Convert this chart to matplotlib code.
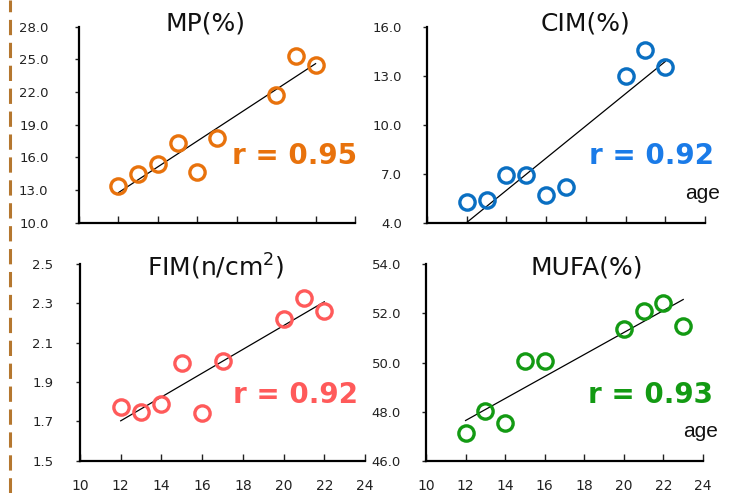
import numpy as np
import matplotlib
matplotlib.use("Agg")
import matplotlib.pyplot as plt
from matplotlib.lines import Line2D

# data
age = [12, 13, 14, 15, 16, 17, 20, 21, 22]
age_mufa = [12, 13, 14, 15, 16, 20, 21, 22, 23]

mp = [13.4, 14.5, 15.4, 17.3, 14.7, 17.8, 21.7, 25.3, 24.5]
cim = [5.28, 5.39, 6.92, 6.92, 5.7, 6.2, 12.98, 14.57, 13.55]
fim = [1.775, 1.746, 1.788, 1.995, 1.741, 2.009, 2.22, 2.329, 2.263]
mufa = [47.14, 48.04, 47.55, 50.07, 50.07, 51.35, 52.11, 52.41, 51.5]

titles = ["MP(%)", "CIM(%)", "FIM(n/cm$^2$)", "MUFA(%)"]
r_labels = ["r = 0.95", "r = 0.92", "r = 0.92", "r = 0.93"]
colors = ["#E8720C", "#0A6FC2", "#FF5A5A", "#139A13"]
r_colors = ["#E8720C", "#1A7BE8", "#FF5A5A", "#139A13"]

W, H = 736, 493
fig = plt.figure(figsize=(W / 100, H / 100), dpi=100)


def add_ax(x0, x1, y0, y1):
    return fig.add_axes([x0 / W, 1 - y1 / H, (x1 - x0) / W, (y1 - y0) / H])


panels = [
    dict(box=(79, 355, 26.7, 222.7), x=age, y=mp, ylim=(10, 28), yt=np.arange(10, 28.1, 3),
         tx=0.457, ty=1.014, rx=0.78, ry=0.34, ypad=19, xlab=False, agel=False),
    dict(box=(427, 705, 26.7, 222.7), x=age, y=cim, ylim=(4, 16), yt=np.arange(4, 16.1, 3),
         tx=0.57, ty=1.014, rx=0.806, ry=0.34, ypad=15, xlab=False, agel=True, agey=0.15),
    dict(box=(80, 365, 264, 460.7), x=age, y=fim, ylim=(1.5, 2.5), yt=np.arange(1.5, 2.51, 0.2),
         tx=0.477, ty=0.985, rx=0.757, ry=0.335, ypad=16, xlab=True, agel=False),
    dict(box=(426, 703, 264.3, 460.7), x=age_mufa, y=mufa, ylim=(46, 54), yt=np.arange(46, 54.1, 2),
         tx=0.58, ty=0.985, rx=0.81, ry=0.335, ypad=15, xlab=True, agel=True, agey=0.15),
]

for i, p in enumerate(panels):
    ax = add_ax(*p["box"])
    xs = np.array(p["x"], dtype=float)
    ys = np.array(p["y"], dtype=float)
    ax.plot(xs, ys, "o", ms=11, mfc="none", mec=colors[i], mew=2.4, zorder=3)
    k, b = np.polyfit(xs, ys, 1)
    xx = np.array([xs.min(), xs.max()])
    ax.plot(xx, k * xx + b, color="black", lw=0.9, zorder=2)

    ax.set_xlim(10, 24)
    ax.set_ylim(*p["ylim"])
    ax.set_xticks(np.arange(10, 24.1, 2))
    ax.set_yticks(p["yt"])
    ax.set_yticklabels(["%.1f" % v for v in p["yt"]])
    if not p["xlab"]:
        ax.set_xticklabels([])
    for s in ["top", "right"]:
        ax.spines[s].set_visible(False)
    for s in ["left", "bottom"]:
        ax.spines[s].set_linewidth(1.6)
    ax.tick_params(axis="x", direction="in", length=5, width=1, labelsize=10, pad=13,
                   colors="#222222")
    ax.tick_params(axis="y", direction="out", length=3, width=1, labelsize=9.5, pad=p["ypad"],
                   colors="#222222")
    ax.patch.set_alpha(0)

    ax.text(p["tx"], p["ty"], titles[i], transform=ax.transAxes, ha="center", va="center",
            fontsize=18, color="#111111")
    ax.text(p["rx"], p["ry"], r_labels[i], transform=ax.transAxes, ha="center", va="center",
            fontsize=20, fontweight="bold", color=r_colors[i])
    if p["agel"]:
        ax.text(1.055, p["agey"], "age", transform=ax.transAxes, ha="right", va="center",
                fontsize=15, family="Liberation Sans", color="#111111")

# dashed brown rule at the left edge
fig.add_artist(Line2D([10 / W, 10 / W], [0, 1], transform=fig.transFigure, color="#B5772F",
                      lw=2.2, linestyle=(0, (5, 2.5))))

fig.savefig("out.png", dpi=100)
